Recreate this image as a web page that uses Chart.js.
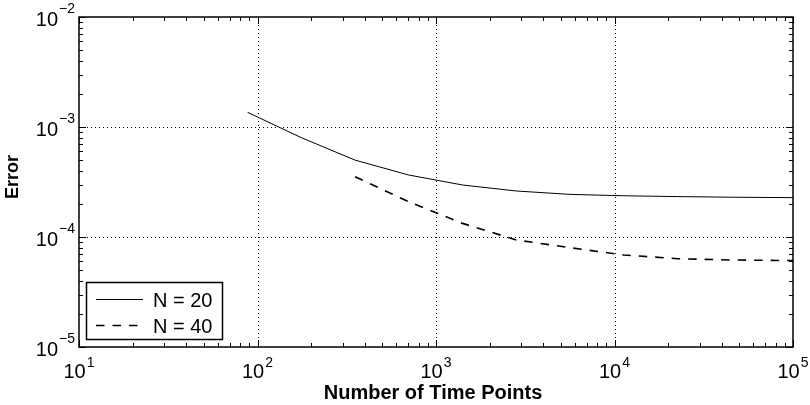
<!DOCTYPE html>
<html>
<head>
<meta charset="utf-8">
<script src="https://cdn.jsdelivr.net/npm/chart.js@4.4.1/dist/chart.umd.min.js"></script>
<style>
  html, body { margin: 0; padding: 0; background: #fff; }
  #wrap { width: 810px; height: 405px; }
</style>
</head>
<body>
<div id="wrap"><canvas id="grafico" width="810" height="405"></canvas></div>
<script>
// valores
const pontos20 = [88, 176, 352, 704, 1408, 2816, 5632, 11264, 22528, 45056, 100000];
const erro20 = [1.36e-3, 8.0e-4, 5.0e-4, 3.66e-4, 2.97e-4, 2.62e-4, 2.44e-4, 2.37e-4, 2.33e-4, 2.30e-4, 2.28e-4];
const pontos40 = [352, 704, 1408, 2816, 5632, 11264, 22528, 45056, 100000];
const erro40 = [3.53e-4, 2.09e-4, 1.33e-4, 9.4e-5, 8.0e-5, 6.86e-5, 6.35e-5, 6.18e-5, 6.1e-5];

const rotulos = ['N = 20', 'N = 40'];
const expX = [1, 2, 3, 4, 5];      // 10^1 .. 10^5
const expY = [-5, -4, -3, -2];     // 10^-5 .. 10^-2
const tituloX = 'Number of Time Points';
const tituloY = 'Error';

const FONTE = '"Liberation Sans", Arial, Helvetica, sans-serif';

function pares(xs, ys) {
    return xs.map((x, i) => ({ x: x, y: ys[i] }));
}

function expoente(n) {
    return n < 0 ? '\u2212' + Math.abs(n) : String(n);
}

// eixos, grade e legenda no estilo do Matlab
const eixosMatlab = {
    id: 'eixosMatlab',
    beforeDatasetsDraw(chart) {
        const c = chart.ctx;
        const a = chart.chartArea;
        const sx = chart.scales.x, sy = chart.scales.y;
        c.save();
        c.strokeStyle = '#000';
        c.lineWidth = 1;
        c.setLineDash([1, 3]);
        expX.forEach(e => {
            const px = Math.round(sx.getPixelForValue(Math.pow(10, e))) + 0.5;
            if (px <= a.left + 2 || px >= a.right - 2) return;
            c.beginPath();
            c.moveTo(px, a.top);
            c.lineTo(px, a.bottom);
            c.stroke();
        });
        expY.forEach(e => {
            const py = Math.round(sy.getPixelForValue(Math.pow(10, e))) + 0.5;
            if (py <= a.top + 2 || py >= a.bottom - 2) return;
            c.beginPath();
            c.moveTo(a.left, py);
            c.lineTo(a.right, py);
            c.stroke();
        });
        c.restore();
    },
    afterDatasetsDraw(chart) {
        const c = chart.ctx;
        const a = chart.chartArea;
        const sx = chart.scales.x, sy = chart.scales.y;
        c.save();
        c.setLineDash([]);
        c.strokeStyle = '#000';
        c.fillStyle = '#000';

        // marcas maiores e menores
        c.lineWidth = 1;
        c.beginPath();
        for (let i = 0; i < expX.length; i++) {
            const e = expX[i];
            for (let m = 1; m <= 9; m++) {
                if (m > 1 && i === expX.length - 1) break;
                const px = Math.round(sx.getPixelForValue(m * Math.pow(10, e))) + 0.5;
                const len = m === 1 ? 7 : 4;
                c.moveTo(px, a.bottom); c.lineTo(px, a.bottom - len);
                c.moveTo(px, a.top); c.lineTo(px, a.top + len);
            }
        }
        for (let i = 0; i < expY.length; i++) {
            const e = expY[i];
            for (let m = 1; m <= 9; m++) {
                if (m > 1 && i === expY.length - 1) break;
                const py = Math.round(sy.getPixelForValue(m * Math.pow(10, e))) + 0.5;
                const len = m === 1 ? 7 : 4;
                c.moveTo(a.left, py); c.lineTo(a.left + len, py);
                c.moveTo(a.right, py); c.lineTo(a.right - len, py);
            }
        }
        c.stroke();

        // caixa
        c.lineWidth = 1.5;
        c.strokeRect(a.left, a.top, a.right - a.left, a.bottom - a.top);

        // rótulos do eixo x
        const fBase = '20px ' + FONTE;
        const fExp = '14px ' + FONTE;
        c.textBaseline = 'alphabetic';
        expX.forEach(e => {
            const px = sx.getPixelForValue(Math.pow(10, e));
            c.font = fBase;
            const w1 = c.measureText('10').width;
            c.font = fExp;
            const w2 = c.measureText(expoente(e)).width;
            const x0 = px - (w1 + w2 + 1) / 2;
            c.font = fBase;
            c.textAlign = 'left';
            c.fillText('10', x0, a.bottom + 31);
            c.font = fExp;
            c.fillText(expoente(e), x0 + w1 + 1, a.bottom + 20);
        });

        // rótulos do eixo y
        expY.forEach(e => {
            const py = sy.getPixelForValue(Math.pow(10, e));
            c.font = fExp;
            const w2 = c.measureText(expoente(e)).width;
            const xr = a.left - 4;
            c.textAlign = 'right';
            c.fillText(expoente(e), xr, py - 4);
            c.font = fBase;
            c.fillText('10', xr - w2 - 1, py + 9);
        });

        // títulos
        c.font = 'bold 20px ' + FONTE;
        c.textAlign = 'center';
        c.fillText(tituloX, (a.left + a.right) / 2 - 3, 399);
        c.font = 'bold 18px ' + FONTE;
        c.save();
        c.translate(18, (a.top + a.bottom) / 2 - 5);
        c.rotate(-Math.PI / 2);
        c.fillText(tituloY, 0, 0);
        c.restore();

        // legenda
        const lx = 86.5, ly = 282.5, lw = 136, lh = 57;
        c.fillStyle = '#fff';
        c.fillRect(lx, ly, lw, lh);
        c.lineWidth = 1.5;
        c.strokeRect(lx, ly, lw, lh);
        const linhasY = [299.5, 325.5];
        chart.data.datasets.forEach((ds, i) => {
            c.beginPath();
            c.lineWidth = ds.borderWidth;
            c.setLineDash(ds.borderDash || []);
            c.moveTo(96, linhasY[i]);
            c.lineTo(143, linhasY[i]);
            c.stroke();
            c.setLineDash([]);
            c.fillStyle = '#000';
            c.font = fBase;
            c.textAlign = 'left';
            c.fillText(ds.label, 153, linhasY[i] + 7);
        });
        c.restore();
    }
};

const ctx = document.getElementById('grafico').getContext('2d');
const grafico = new Chart(ctx, {
    type: 'line',
    data: {
        datasets: [{
            label: rotulos[0],
            data: pares(pontos20, erro20),
            borderColor: '#000',
            borderWidth: 1,
            pointRadius: 0,
            tension: 0,
            fill: false
        }, {
            label: rotulos[1],
            data: pares(pontos40, erro40),
            borderColor: '#000',
            borderWidth: 1.6,
            borderDash: [8.5, 8],
            pointRadius: 0,
            tension: 0,
            fill: false
        }]
    },
    options: {
        responsive: false,
        animation: false,
        events: [],
        layout: { padding: { left: 79, top: 17, right: 17, bottom: 58 } },
        plugins: { legend: { display: false }, tooltip: { enabled: false } },
        scales: {
            x: { type: 'logarithmic', min: 10, max: 1e5, display: false },
            y: { type: 'logarithmic', min: 1e-5, max: 1e-2, display: false }
        }
    },
    plugins: [eixosMatlab]
});
</script>
</body>
</html>
